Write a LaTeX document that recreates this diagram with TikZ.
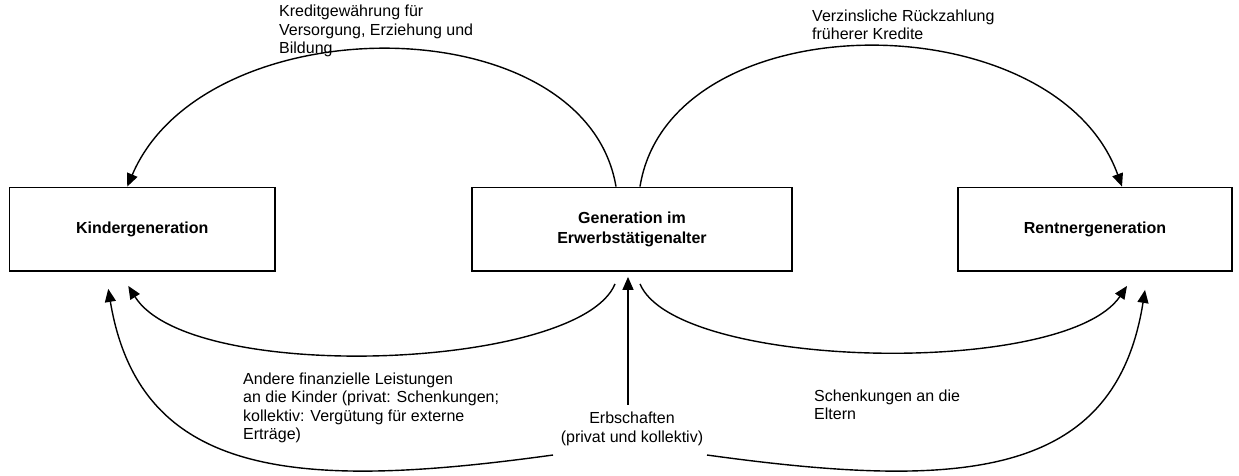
\documentclass[tikz,border=0pt]{standalone}
\usepackage{fontspec}
\setmainfont{Liberation Sans}
\usetikzlibrary{arrows.meta}
\begin{document}
\begin{tikzpicture}[x=1pt,y=-1pt,
  every node/.style={font=\fontsize{16}{18.4}\selectfont, inner sep=0pt},
  genbox/.style={draw, line width=1.8pt, minimum height=83.5pt, align=center, font=\fontsize{16}{20}\selectfont\bfseries},
  lbl/.style={align=left, anchor=base west},
  conn/.style={line width=1.4pt, -{Triangle[length=13pt,width=11pt]}}]
\useasboundingbox (0,0) rectangle (1239,475);
% boxes
\node[genbox, minimum width=265.5pt] (k) at (142.25,229.25) {Kindergeneration};
\node[genbox, minimum width=319.7pt] (mid) at (632,229.25) {Generation im\\Erwerbstätigenalter};
\node[genbox, minimum width=274pt] (r) at (1095,229.25) {Rentnergeneration};
% labels (base anchor = baseline of last line)
\node[lbl] (kred) at (279,53.5) {Kreditgewährung für\\Versorgung, Erziehung und\\Bildung};
\node[lbl] (verz) at (812,39.4) {Verzinsliche Rückzahlung\\früherer Kredite};
\node[lbl] (andere) at (243,439.5) {Andere finanzielle Leistungen\\an die Kinder (privat: Schenkungen;\\kollektiv: Vergütung für externe\\Erträge)};
\node[align=center, anchor=base] (erb) at (632,442) {Erbschaften\\(privat und kollektiv)};
\node[lbl] (schenk) at (814,419.4) {Schenkungen an die\\Eltern};
% top arcs
\draw[conn] ([xshift=-16pt]mid.north) .. controls (585,4) and (205,4) .. ([xshift=-15pt]k.north);
\draw[conn] ([xshift=8pt]mid.north) .. controls (670,0) and (1055,0) .. ([xshift=27pt]r.north);
% bottom inner arcs
\draw[conn] ([xshift=-17pt,yshift=-12pt]mid.south) .. controls (580,370) and (190,385) .. ([xshift=-14pt,yshift=-14pt]k.south);
\draw[conn] ([xshift=8pt,yshift=-12pt]mid.south) .. controls (676,370) and (1065,378) .. ([xshift=32pt,yshift=-14pt]r.south);
% inheritance
\draw[conn] ([xshift=-4pt,yshift=7pt]erb.north) -- ([xshift=-4pt,yshift=-5pt]mid.south);
\draw[conn] ([xshift=-79pt,yshift=-13pt]erb.base) .. controls (300,490) and (140,480) .. ([xshift=-34pt,yshift=-17pt]k.south);
\draw[conn] ([xshift=75pt,yshift=-13pt]erb.base) .. controls (960,490) and (1115,480) .. ([xshift=50pt,yshift=-18pt]r.south);
\end{tikzpicture}
\end{document}
